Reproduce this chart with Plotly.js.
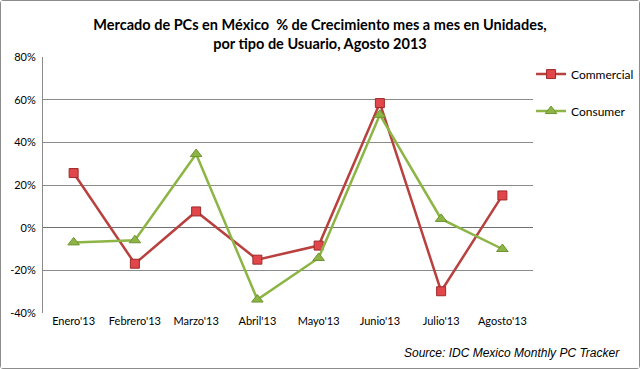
<!DOCTYPE html>
<html><head><meta charset="utf-8">
<script src="https://cdn.plot.ly/plotly-3.0.1.min.js"></script>
<style>
html,body{margin:0;padding:0;background:#fff;}
#chart{width:638px;height:367px;border:1px solid #8c8c8c;border-radius:3px;}
</style></head>
<body><div id="chart"></div>
<script>
const categories = ["Enero'13","Febrero'13","Marzo'13","Abril'13","Mayo'13","Junio'13","Julio'13","Agosto'13"];
const commercial = [25.6, -16.9, 7.6, -15.0, -8.4, 58.4, -29.8, 15.1];
const consumer = [-6.9, -5.9, 34.5, -33.7, -14.2, 52.9, 4.1, -10.0];
const yTicks = [-40, -20, 0, 20, 40, 60, 80];
const yTickText = ["-40%", "-20%", "0%", "20%", "40%", "60%", "80%"];

const traces = [
  {x: categories, y: commercial, name: 'Commercial', type: 'scatter', mode: 'lines+markers',
   legendgroup: 'a',
   line: {color: '#B8403E', width: 2.5},
   marker: {symbol: 'square', size: 9, color: '#E0464A', line: {color: '#9E2A2A', width: 1}}},
  {x: categories, y: consumer, name: 'Consumer', type: 'scatter', mode: 'lines+markers',
   legendgroup: 'b',
   line: {color: '#8DB545', width: 2.5},
   marker: {symbol: 'triangle-up', size: 10, color: '#8DB545', line: {color: '#6E9231', width: 1}}}
];

const layout = {
  width: 638, height: 367,
  margin: {l: 42, r: 106, t: 56, b: 55, autoexpand: false},
  paper_bgcolor: '#fff', plot_bgcolor: '#fff',
  font: {family: 'Lato, "Open Sans", sans-serif', color: '#000', size: 11},
  title: {text: '<b>Mercado de PCs en México  % de Crecimiento mes a mes en Unidades,<br>por tipo de Usuario, Agosto 2013</b>',
          x: 0.5, xref: 'container', xanchor: 'center', yref: 'container', y: 0.921, yanchor: 'middle',
          font: {family: 'Lato, "Open Sans", sans-serif', size: 14.5, color: '#000'}},
  xaxis: {type: 'category', range: [-0.5, 7.5], showgrid: false, zeroline: false,
          showline: false, ticks: '', tickfont: {size: 11}, fixedrange: true, automargin: false},
  yaxis: {range: [-40, 80], tickvals: yTicks, ticktext: yTickText, tickmode: 'array', showgrid: true,
          gridcolor: '#8a8a8a', gridwidth: 1, zeroline: true, zerolinecolor: '#707070', zerolinewidth: 1.5,
          showline: true, linecolor: '#8a8a8a', linewidth: 1, ticks: '', ticklabelstandoff: 4,
          tickfont: {size: 11}, fixedrange: true, automargin: false},
  showlegend: true,
  legend: {x: 0.996, xanchor: 'left', y: 0.99, yanchor: 'top', tracegroupgap: 18, itemwidth: 30,
           font: {size: 12}, bgcolor: 'rgba(0,0,0,0)'},
  annotations: [
    {text: '<i>Source: IDC Mexico Monthly PC Tracker</i>', xref: 'paper', yref: 'paper',
     x: 1.182, y: -0.156, xanchor: 'right', yanchor: 'middle', showarrow: false,
     font: {family: '"Liberation Sans", Arial, sans-serif', size: 12, color: '#000'}}
  ]
};

Plotly.newPlot('chart', traces, layout, {displayModeBar: false, staticPlot: true});
</script></body></html>
